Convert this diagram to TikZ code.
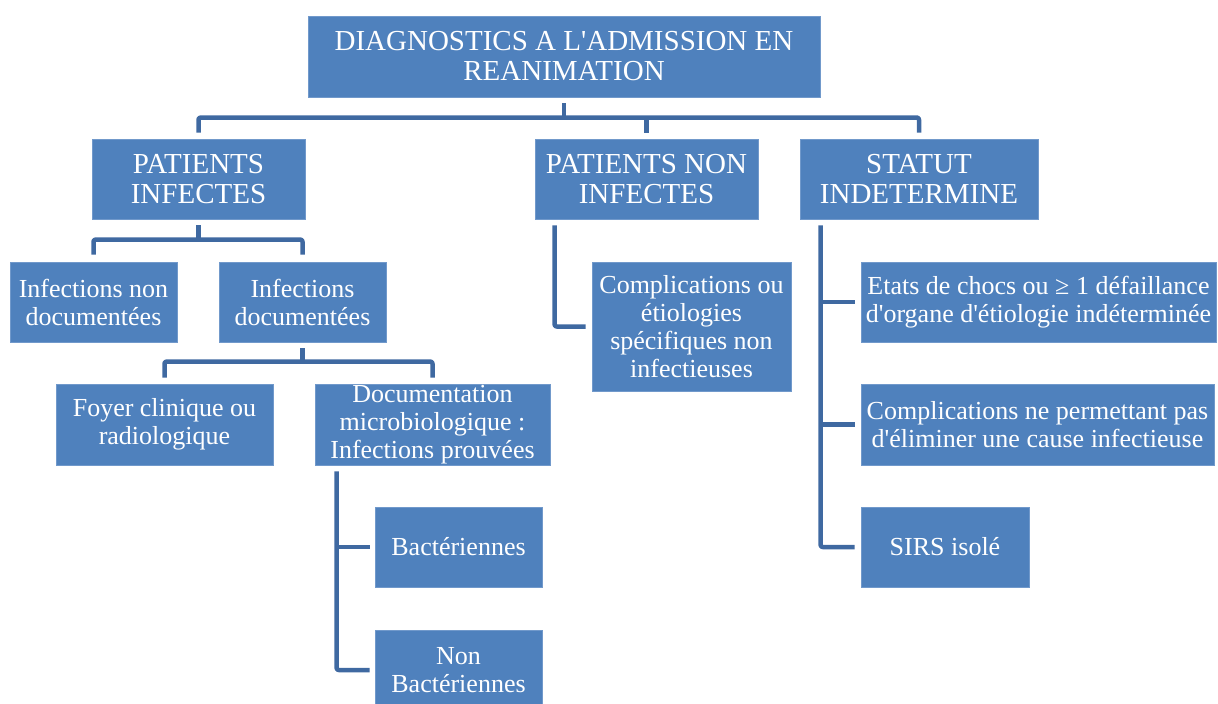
\documentclass[tikz,border=0pt]{standalone}
\usepackage{fontspec}
\setmainfont{Liberation Serif}
\usetikzlibrary{calc}
\definecolor{boxblue}{HTML}{4F81BD}
\definecolor{boxedge}{HTML}{7199CB}
\definecolor{connblue}{HTML}{3F69A1}
\newcommand{\apos}{\textquotesingle}
\tikzset{
  box/.style={fill=boxblue, draw=boxedge, line width=0.8pt, text=white, align=center,
    inner sep=0pt, font=\fontsize{26}{28}\selectfont},
  head/.style={box, font=\fontsize{29}{30}\selectfont},
  conn/.style={draw=connblue, line width=4.5pt, line join=round, rounded corners=2pt},
}
\begin{document}
\begin{tikzpicture}[x=1pt,y=1pt]
\useasboundingbox (0,0) rectangle (1218,-704);
% level 0
\node[head, minimum width=512pt, minimum height=81pt] (top) at (564,-56.5)
  {DIAGNOSTICS A L\apos ADMISSION EN\\REANIMATION};
% level 1
\node[head, minimum width=213pt, minimum height=80pt] (pinf) at (198.5,-179) {PATIENTS\\INFECTES};
\node[head, minimum width=223pt, minimum height=80pt] (pnon) at (646.5,-179) {PATIENTS NON\\INFECTES};
\node[head, minimum width=238pt, minimum height=80pt] (stat) at (919,-179) {STATUT\\INDETERMINE};
% level 2
\node[box, minimum width=167pt, minimum height=80pt] (indoc) at (93.5,-302) {Infections non\\documentées};
\node[box, minimum width=167pt, minimum height=80pt] (idoc) at (302.5,-302) {Infections\\documentées};
\node[box, minimum width=199pt, minimum height=129pt] (compl) at (691.5,-326.5)
  {Complications ou\\étiologies\\spécifiques non\\infectieuses};
\node[box, minimum width=355pt, minimum height=80pt] (etats) at (1038.5,-302)
  {Etats de chocs ou ≥ 1 défaillance\\d\apos organe d\apos étiologie indéterminée};
% level 3
\node[box, minimum width=217pt, minimum height=81pt] (foyer) at (164.5,-424.5) {Foyer clinique ou\\radiologique};
\node[box, minimum width=235pt, minimum height=81pt] (docm) at (432.5,-424.5)
  {Documentation\\microbiologique :\\Infections prouvées};
\node[box, minimum width=353pt, minimum height=81pt] (cne) at (1037.5,-424.5)
  {Complications ne permettant pas\\d\apos éliminer une cause infectieuse};
% level 4
\node[box, minimum width=167pt, minimum height=80pt] (bact) at (458.5,-547) {Bactériennes};
\node[box, minimum width=167pt, minimum height=80pt] (nbact) at (458.5,-670) {Non\\Bactériennes};
\node[box, minimum width=168pt, minimum height=80pt] (sirs) at (945,-547) {SIRS isolé};

% connectors: top
\draw[conn] ([yshift=-6pt]top.south) -- ++(0,-15);
\draw[conn] ([yshift=6pt]pinf.north) |- ([yshift=21pt]stat.north) -- ([yshift=6pt]stat.north);
\draw[conn] ([yshift=6pt]pnon.north) -- ++(0,15);
% patients infectes
\draw[conn] ([yshift=-6pt]pinf.south) -- ++(0,-15);
\draw[conn] ([yshift=7pt]indoc.north) |- ([yshift=22pt]idoc.north) -- ([yshift=7pt]idoc.north);
% infections documentees
\draw[conn] ([yshift=-6pt]idoc.south) -- ++(0,-14);
\draw[conn] ([yshift=6pt]foyer.north) |- ([yshift=22pt]docm.north) -- ([yshift=6pt]docm.north);
% documentation microbiologique
\coordinate (dv) at ([xshift=22pt,yshift=-6pt]docm.south west);
\draw[conn] (dv) |- ([xshift=-5pt]nbact.west);
\draw[conn] ([xshift=-5pt]bact.west) -- (bact.west -| dv);
% patients non infectes
\draw[conn] ([xshift=20pt,yshift=-6pt]pnon.south west) |- ([xshift=-6pt]compl.west);
% statut indetermine
\coordinate (sv) at ([xshift=21pt,yshift=-6pt]stat.south west);
\draw[conn] (sv) |- ([xshift=-6pt]sirs.west);
\draw[conn] ([xshift=-6pt]etats.west) -- (etats.west -| sv);
\draw[conn] ([xshift=-6pt]cne.west) -- (cne.west -| sv);
\end{tikzpicture}
\end{document}
